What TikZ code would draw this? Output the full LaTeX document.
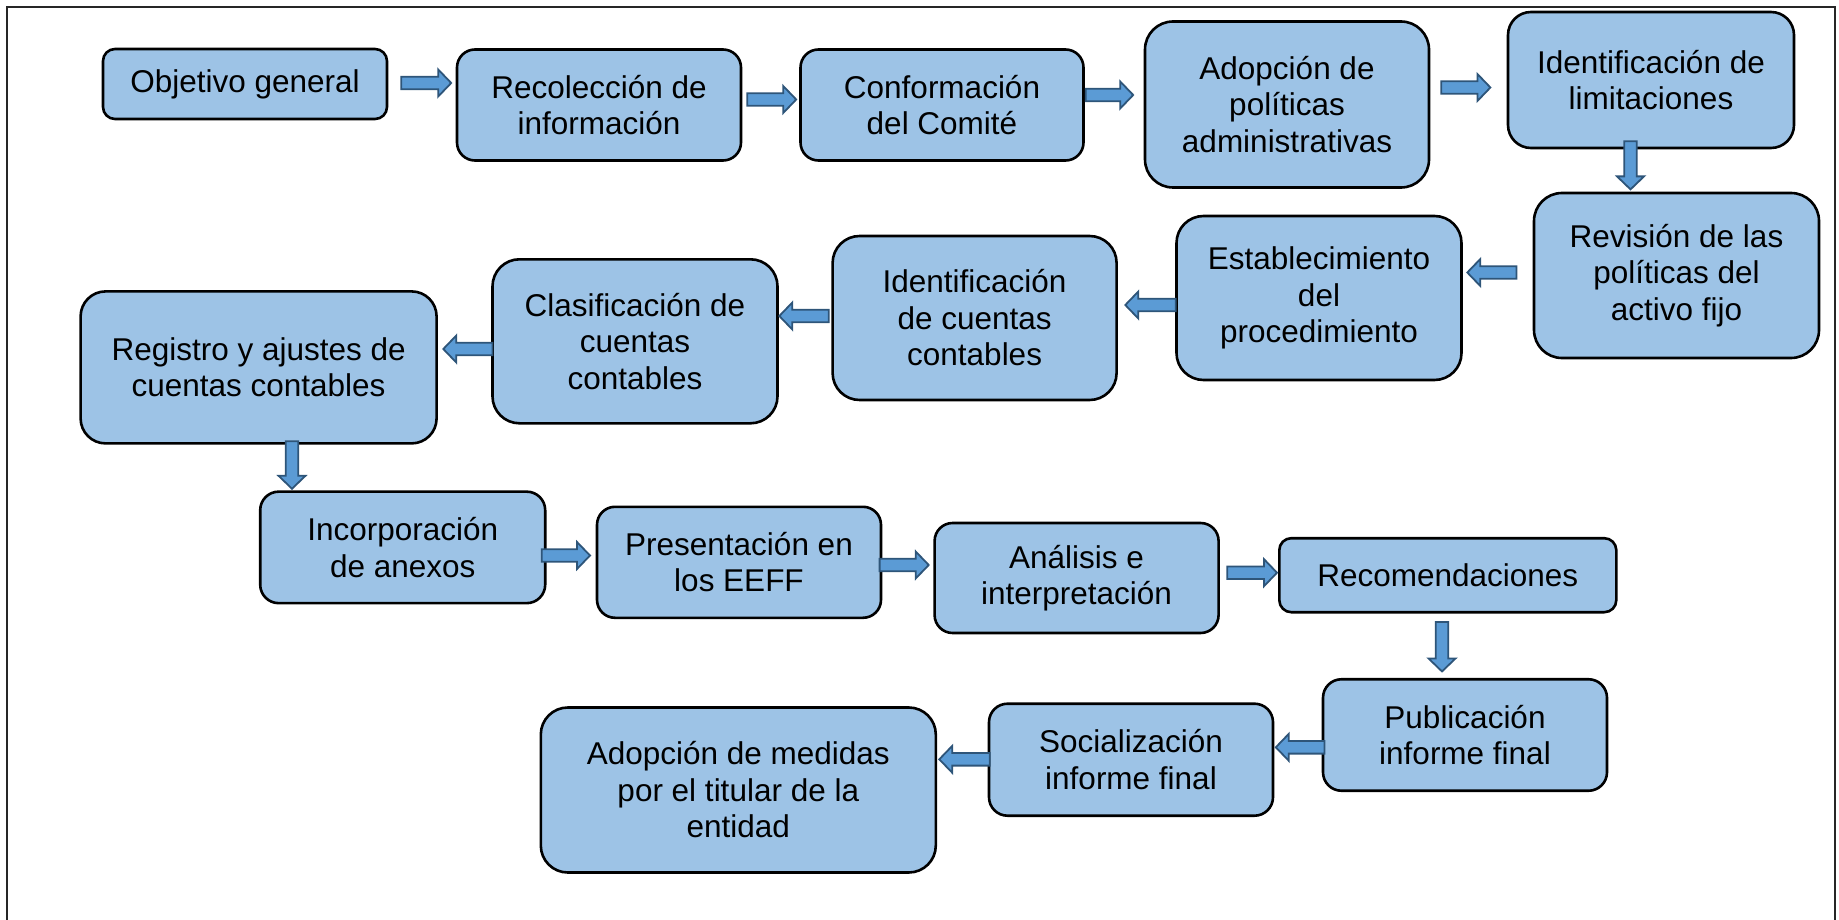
\documentclass[tikz,border=0pt]{standalone}
\usepackage{fontspec}
\setmainfont{Liberation Sans}
\usetikzlibrary{calc}
\definecolor{boxfill}{HTML}{9DC3E6}
\definecolor{arrfill}{HTML}{5B9BD5}
\definecolor{arrline}{HTML}{2E5579}
\newcommand\blkarrow[2]{%
  \path ($(#2)!13pt!(#1)$) coordinate (tmph);
  \draw[blk] ($(#1)!6.3pt!90:(#2)$) -- ($(tmph)!6.3pt!90:(#2)$) -- ($(tmph)!13.5pt!90:(#2)$) -- (#2)
    -- ($(tmph)!13.5pt!-90:(#2)$) -- ($(tmph)!6.3pt!-90:(#2)$) -- ($(#1)!6.3pt!-90:(#2)$) -- cycle;}
\tikzset{
  box/.style n args={3}{draw=black, fill=boxfill, line width=2.6pt, rounded corners=#3,
    minimum width=#1, minimum height=#2, inner sep=0pt, align=center,
    font=\fontsize{31.5}{36.5}\selectfont},
  blk/.style={fill=arrfill, draw=arrline, line width=1.8pt, line join=miter},
  frame/.style={draw=black!85, line width=2pt}
}
\begin{document}
\begin{tikzpicture}[x=1pt,y=-1pt]
\useasboundingbox (0,0) rectangle (1839,920);
\draw[frame] (7,930) -- (7,7) -- (1835,7) -- (1835,930);
% boxes
\node[box={284pt}{70pt}{12pt}] (b1) at (245,84) {Objetivo general};
\node[box={284pt}{111pt}{18pt}] (b2) at (599,105) {Recolección de\\información};
\node[box={283pt}{111pt}{18pt}] (b3) at (942,105) {Conformación\\del Comité};
\node[box={284pt}{166pt}{28pt}] (b4) at (1287,104.5) {Adopción de\\políticas\\administrativas};
\node[box={286pt}{136pt}{23pt}] (b5) at (1651,80) {Identificación de\\limitaciones};
\node[box={285pt}{165pt}{28pt}] (b6) at (1676.5,275.5) {Revisión de las\\políticas del\\activo fijo};
\node[box={285pt}{164pt}{27pt}] (b7) at (1319,298) {Establecimiento\\del\\procedimiento};
\node[box={284pt}{164pt}{27pt}] (b8) at (974.6,318) {Identificación\\de cuentas\\contables};
\node[box={285pt}{164pt}{27pt}] (b9) at (635,341.3) {Clasificación de\\cuentas\\contables};
\node[box={356pt}{152pt}{25pt}] (b10) at (258.6,367.4) {Registro y ajustes de\\cuentas contables};
\node[box={285pt}{111.5pt}{18.5pt}] (b11) at (402.7,547.4) {Incorporación\\de anexos};
\node[box={284pt}{111pt}{18pt}] (b12) at (739,562.3) {Presentación en\\los EEFF};
\node[box={284pt}{110pt}{18pt}] (b13) at (1076.6,578) {Análisis e\\interpretación};
\node[box={337pt}{74pt}{12pt}] (b14) at (1447.8,575.2) {Recomendaciones};
\node[box={284pt}{111.5pt}{18.5pt}] (b15) at (1465,735) {Publicación\\informe final};
\node[box={284pt}{112pt}{18.5pt}] (b16) at (1131,759.7) {Socialización\\informe final};
\node[box={395pt}{165pt}{27pt}] (b17) at (738.3,790) {Adopción de medidas\\por el titular de la\\entidad};
% arrow end points
\coordinate (a1s) at ($(b1.east)+(13,-1)$);   \coordinate (a1e) at ($(b2.west)+(-4.5,-22)$);
\coordinate (a2s) at ($(b2.east)+(5,-5.5)$);  \coordinate (a2e) at ($(b3.west)+(-3,-5.5)$);
\coordinate (a3s) at ($(b3.east)+(1,-10)$);   \coordinate (a3e) at ($(b4.west)+(-10.5,-9.5)$);
\coordinate (a4s) at ($(b4.east)+(11,-17)$);  \coordinate (a4e) at ($(b5.west)+(-16.3,7.5)$);
\coordinate (a5s) at ($(b5.south)+(-20.5,-8)$); \coordinate (a5e) at ($(b6.north)+(-46,-2.3)$);
\coordinate (a6s) at ($(b6.west)+(-16.3,-3)$); \coordinate (a6e) at ($(b7.east)+(4.5,-25.5)$);
\coordinate (a7s) at ($(b7.west)+(0.5,7)$);   \coordinate (a7e) at ($(b8.east)+(7.4,-13)$);
\coordinate (a8s) at ($(b8.west)+(-2.6,-2)$); \coordinate (a8e) at ($(b9.east)+(0.5,-25.3)$);
\coordinate (a9s) at ($(b9.west)+(1.2,7.7)$); \coordinate (a9e) at ($(b10.east)+(5.4,-18.4)$);
\coordinate (a10s) at ($(b10.south)+(33.4,-3.4)$); \coordinate (a10e) at ($(b11.north)+(-110.7,-1.6)$);
\coordinate (a11s) at ($(b11.east)+(-4.8,8.1)$); \coordinate (a11e) at ($(b12.west)+(-5.7,-6.8)$);
\coordinate (a12s) at ($(b12.east)+(-2.7,2.7)$); \coordinate (a12e) at ($(b13.west)+(-4.6,-13)$);
\coordinate (a13s) at ($(b13.east)+(7.4,-5.3)$); \coordinate (a13e) at ($(b14.west)+(-1,-2.5)$);
\coordinate (a14s) at ($(b14.south)+(-5.8,8.5)$); \coordinate (a14e) at ($(b15.north)+(-23,-6.5)$);
\coordinate (a15s) at ($(b15.west)+(2.8,12.3)$); \coordinate (a15e) at ($(b16.east)+(1.5,-12.4)$);
\coordinate (a16s) at ($(b16.west)+(2,-0.4)$); \coordinate (a16e) at ($(b17.east)+(2.2,-30.7)$);
% arrows
\blkarrow{a1s}{a1e}
\blkarrow{a2s}{a2e}
\blkarrow{a3s}{a3e}
\blkarrow{a4s}{a4e}
\blkarrow{a5s}{a5e}
\blkarrow{a6s}{a6e}
\blkarrow{a7s}{a7e}
\blkarrow{a8s}{a8e}
\blkarrow{a9s}{a9e}
\blkarrow{a10s}{a10e}
\blkarrow{a11s}{a11e}
\blkarrow{a12s}{a12e}
\blkarrow{a13s}{a13e}
\blkarrow{a14s}{a14e}
\blkarrow{a15s}{a15e}
\blkarrow{a16s}{a16e}
\end{tikzpicture}
\end{document}
